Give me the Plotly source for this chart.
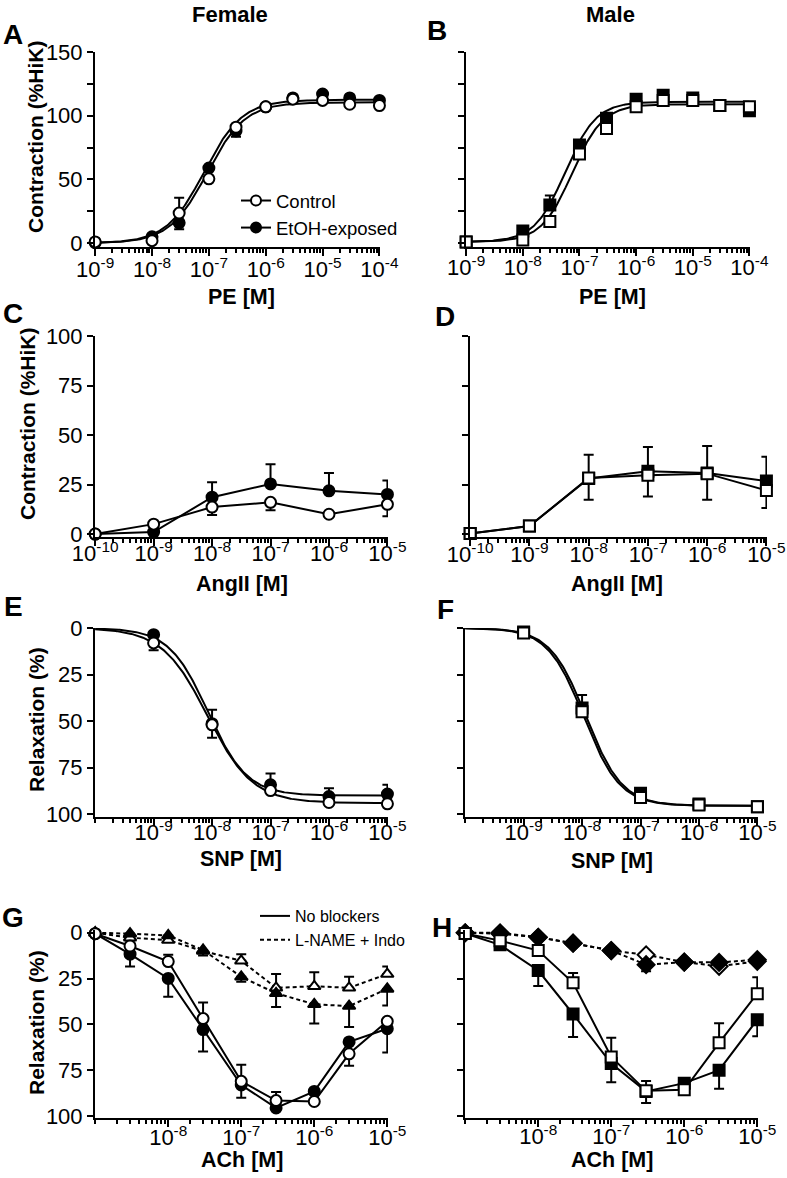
import numpy as np
import plotly.graph_objects as go

# ---------------- DATA ----------------
# Panel A/B: phenylephrine (PE) concentration-response (contraction, %HiK)
pe_x = [1e-9, 1e-8, 3e-8, 1e-7, 3e-7, 1e-6, 3e-6, 1e-5, 3e-5, 1e-4]
A_ctrl = [1, 2, 23.6, 50.5, 91, 107, 113, 112, 109, 108]
A_ctrl_up = [0, 0, 12, 0, 0, 0, 0, 0, 0, 0]
A_etoh = [0.5, 5, 16, 59, 88, 107, 114, 117, 114, 112]
A_etoh_dn = [0, 0, 5, 0, 4.5, 0, 0, 0, 0, 0]
# fit parameters: [bottom, top, logEC50, hill slope]
A_ctrl_fit = [0, 110.5, -7.03, 1.3]
A_etoh_fit = [0, 112.5, -7.08, 1.3]

B_ctrl = [1, 2.4, 17, 70, 90, 107, 112, 112, 108, 107]
B_etoh = [1, 9.5, 30, 77, 98, 113, 116, 114, 108, 104]
B_etoh_up = [0, 0, 7.5, 0, 0, 0, 0, 0, 0, 0]
B_ctrl_fit = [1, 109, -7.13, 1.6]
B_etoh_fit = [1, 111, -7.25, 1.6]

# Panel C/D: angiotensin II
ang_x = [1e-10, 1e-9, 1e-8, 1e-7, 1e-6, 1e-5]
C_ctrl = [0, 5, 13.6, 16, 10, 15]
C_ctrl_dn = [0, 0, 4, 4, 0, 6]
C_etoh = [0, 1, 18.6, 25.3, 21.8, 20]
C_etoh_up = [0, 0, 7.6, 10, 9, 7]

D_ctrl = [0.3, 4, 28.3, 29.7, 30.5, 22]
D_ctrl_dn = [0, 0, 11, 10.7, 13.2, 8.8]
D_etoh = [0.3, 4, 28, 31.7, 30.8, 26.8]
D_etoh_up = [0, 0, 12, 12.3, 13.6, 12.2]

# Panel E/F: sodium nitroprusside (relaxation, %)
snp_x = [1e-9, 1e-8, 1e-7, 1e-6, 1e-5]
E_ctrl = [8, 52, 87.3, 93.7, 94.4]
E_ctrl_plus = [4, 7, 0, 0, 0]
E_etoh = [3.6, 51.4, 84.2, 90.5, 89.2]
E_etoh_minus = [0, 7.5, 6, 4.5, 5]
E_ctrl_fit = [0, 94, -8.08, 1.12]
E_etoh_fit = [0, 90, -8.07, 1.3]

F_ctrl = [2.7, 45, 91, 95, 96]
F_etoh = [2.1, 43, 88.8, 94.5, 96]
F_etoh_minus = [0, 7, 0, 0, 0]
F_ctrl_fit = [0, 95.5, -7.93, 1.4]
F_etoh_fit = [0, 95.5, -7.97, 1.4]

# Panel G/H: acetylcholine (relaxation, %)
ach_x = [1e-9, 3e-9, 1e-8, 3e-8, 1e-7, 3e-7, 1e-6, 3e-6, 1e-5]
G_ctrl = [0.5, 7.2, 15.7, 46.8, 81, 91.5, 92, 66, 48.3]
G_ctrl_minus = [0, 0, 3.7, 8.8, 9, 4.7, 0, 0, 0]
G_ctrl_plus = [0, 0, 0, 0, 0, 0, 0, 6.5, 0]
G_etoh = [0.5, 11.7, 24.9, 52.8, 83, 95.5, 86.5, 59.5, 52.3]
G_etoh_plus = [0, 6.7, 10, 12, 7, 0, 0, 0, 13]
G_ln_ctrl = [0, 2.7, 4, 10, 15.3, 30, 29.2, 30, 22.5]
G_ln_ctrl_minus = [0, 0, 0, 0, 3.6, 7.5, 7.6, 6, 4.1]
G_ln_etoh = [0, 0.5, 1.5, 9.4, 24, 33, 39, 40, 30.6]
G_ln_etoh_plus = [0, 0, 0, 3, 2.7, 7.5, 10.5, 11.4, 9]

H_ctrl = [0.4, 4.3, 9.7, 27.3, 67.7, 86.2, 85.6, 60, 33.2]
H_ctrl_minus = [0, 0, 0, 5.4, 10.4, 5.4, 0, 10.6, 9]
H_etoh = [0.4, 6.6, 20.6, 44.3, 71.3, 86.5, 82, 74.9, 47.4]
H_etoh_plus = [0, 0, 8.4, 12.6, 10.2, 6.3, 0, 10.2, 9]
H_ln_ctrl = [0, 0.5, 2.5, 5.7, 9.7, 12, 16, 18.3, 15.6]
H_ln_etoh = [0, 0, 2.5, 5.7, 9.7, 17.4, 16, 16.2, 14.7]
H_ln_etoh_plus = [0, 0, 0, 0, 0, 3.6, 0, 0, 0]

# ---------------- STYLE ----------------
W, H = 787, 1178
FONT = "Arial, Liberation Sans, sans-serif"
BLACK = "black"


def px_x(p):
    return p / W


def px_y(p):
    return 1 - p / H


def hill(params, lo, hi, n=300):
    bottom, top, logec50, slope = params
    lx = np.linspace(lo, hi, n)
    y = bottom + (top - bottom) / (1 + 10 ** ((logec50 - lx) * slope))
    return 10 ** lx, y


fig = go.Figure()


def marker(symbol, filled, size=11):
    return dict(symbol=symbol, size=size, color=BLACK if filled else "white",
                line=dict(color=BLACK, width=2))


def err(plus, minus):
    return dict(type="data", symmetric=False, array=plus, arrayminus=minus,
                color=BLACK, thickness=2, width=5)


def zeros(n):
    return [0] * n


def add_points(ax, x, y, sym, filled, plus, minus, mode="markers", dash="solid", size=11):
    xa, ya = ax
    fig.add_trace(go.Scatter(
        x=x, y=y, mode=mode, xaxis=xa, yaxis=ya, showlegend=False,
        marker=marker(sym, filled, size), line=dict(color=BLACK, width=2, dash=dash),
        error_y=err(plus, minus), cliponaxis=False))


def add_curve(ax, params, lo, hi):
    xa, ya = ax
    cx, cy = hill(params, lo, hi)
    fig.add_trace(go.Scatter(x=cx, y=cy, mode="lines", xaxis=xa, yaxis=ya,
                             showlegend=False, line=dict(color=BLACK, width=2),
                             cliponaxis=False))


# Panel A
axA = ("x", "y")
add_curve(axA, A_ctrl_fit, -9, -4)
add_curve(axA, A_etoh_fit, -9, -4)
add_points(axA, pe_x, A_etoh, "circle", True, zeros(10), A_etoh_dn)
add_points(axA, pe_x, A_ctrl, "circle", False, A_ctrl_up, zeros(10))

# Panel B
axB = ("x2", "y2")
add_curve(axB, B_ctrl_fit, -9, -4)
add_curve(axB, B_etoh_fit, -9, -4)
add_points(axB, pe_x, B_etoh, "square", True, B_etoh_up, zeros(10))
add_points(axB, pe_x, B_ctrl, "square", False, zeros(10), zeros(10))

# Panel C
axC = ("x3", "y3")
add_points(axC, ang_x, C_etoh, "circle", True, C_etoh_up, zeros(6), mode="lines+markers")
add_points(axC, ang_x, C_ctrl, "circle", False, zeros(6), C_ctrl_dn, mode="lines+markers")

# Panel D
axD = ("x4", "y4")
add_points(axD, ang_x, D_etoh, "square", True, D_etoh_up, zeros(6), mode="lines+markers")
add_points(axD, ang_x, D_ctrl, "square", False, zeros(6), D_ctrl_dn, mode="lines+markers")

# Panel E
axE = ("x5", "y5")
add_curve(axE, E_ctrl_fit, -10, -5)
add_curve(axE, E_etoh_fit, -10, -5)
add_points(axE, snp_x, E_etoh, "circle", True, zeros(5), E_etoh_minus)
add_points(axE, snp_x, E_ctrl, "circle", False, E_ctrl_plus, zeros(5))

# Panel F
axF = ("x6", "y6")
add_curve(axF, F_ctrl_fit, -10, -5)
add_curve(axF, F_etoh_fit, -10, -5)
add_points(axF, snp_x, F_etoh, "square", True, zeros(5), F_etoh_minus)
add_points(axF, snp_x, F_ctrl, "square", False, zeros(5), zeros(5))

# Panel G
axG = ("x7", "y7")
add_points(axG, ach_x, G_ln_ctrl, "triangle-up", False, zeros(9), G_ln_ctrl_minus,
           mode="lines+markers", dash="4px,3px", size=11)
add_points(axG, ach_x, G_ln_etoh, "triangle-up", True, G_ln_etoh_plus, zeros(9),
           mode="lines+markers", dash="4px,3px", size=11)
add_points(axG, ach_x, G_etoh, "circle", True, G_etoh_plus, zeros(9), mode="lines+markers")
add_points(axG, ach_x, G_ctrl, "circle", False, G_ctrl_plus, G_ctrl_minus, mode="lines+markers")

# Panel H
axH = ("x8", "y8")
add_points(axH, ach_x, H_ln_ctrl, "diamond", False, zeros(9), zeros(9),
           mode="lines+markers", dash="4px,3px", size=13)
add_points(axH, ach_x, H_ln_etoh, "diamond", True, H_ln_etoh_plus, zeros(9),
           mode="lines+markers", dash="4px,3px", size=13)
add_points(axH, ach_x, H_etoh, "square", True, H_etoh_plus, zeros(9), mode="lines+markers")
add_points(axH, ach_x, H_ctrl, "square", False, zeros(9), H_ctrl_minus, mode="lines+markers")

# Legend entries (panel A)
fig.add_trace(go.Scatter(x=[None], y=[None], mode="lines+markers", name="Control",
                         marker=marker("circle", False, 10), line=dict(color=BLACK, width=2),
                         legend="legend"))
fig.add_trace(go.Scatter(x=[None], y=[None], mode="lines+markers", name="EtOH-exposed",
                         marker=marker("circle", True, 10), line=dict(color=BLACK, width=2),
                         legend="legend"))
# Legend entries (panel G)
fig.add_trace(go.Scatter(x=[None], y=[None], mode="lines", name="No blockers",
                         line=dict(color=BLACK, width=2), legend="legend2"))
fig.add_trace(go.Scatter(x=[None], y=[None], mode="lines", name="L-NAME + Indo",
                         line=dict(color=BLACK, width=2, dash="4px,3px"), legend="legend2"))


def sup(e):
    return "10<sup>%d</sup>" % e


def minor_vals(lo, hi, extra):
    return sorted([m * 10.0 ** d for d in range(lo, hi) for m in range(2, 10)] + extra)


tickfont = dict(family=FONT, size=22, color=BLACK)


def xaxis(dom, lo, hi, labeled, anchor, shift):
    vals = [10.0 ** e for e in labeled]
    text = [sup(e) for e in labeled]
    extra = [10.0 ** e for e in range(lo, hi + 1) if e not in labeled]
    return dict(domain=dom, type="log", range=[lo - 0.003, hi + 0.01], anchor=anchor,
                automargin=False,
                tickmode="array", tickvals=vals, ticktext=text, ticklabelstandoff=shift,
                showline=True, linewidth=2, linecolor=BLACK, mirror=False,
                ticks="outside", ticklen=7, tickwidth=2, tickcolor=BLACK,
                tickfont=tickfont, showgrid=False, zeroline=False,
                minor=dict(tickmode="array", tickvals=minor_vals(lo, hi, extra), ticks="outside",
                           ticklen=4, tickwidth=1.5, tickcolor=BLACK, showgrid=False))


def yaxis(dom, rng, vals, text, minor, anchor, show):
    d = dict(domain=dom, range=rng, anchor=anchor, tickmode="array",
             automargin=False,
             tickvals=vals, ticktext=text, showticklabels=show,
             showline=True, linewidth=2, linecolor=BLACK,
             ticks="outside", ticklen=6, tickwidth=2, tickcolor=BLACK,
             tickfont=tickfont, showgrid=False, zeroline=False)
    if minor:
        d["minor"] = dict(tickmode="array", tickvals=minor, ticks="outside", ticklen=6,
                          tickwidth=2, tickcolor=BLACK, showgrid=False)
    return d


# domains (pixel based)
xL_A = [px_x(95), px_x(380)]
xR_B = [px_x(466), px_x(750)]
xL = [px_x(95), px_x(388)]
xR_D = [px_x(470), px_x(767)]
xR_F = [px_x(465), px_x(758)]
yAB = [px_y(247), px_y(52)]
yCD = [px_y(537), px_y(336)]
yEF = [px_y(817), px_y(628)]
yGH = [px_y(1118), px_y(930)]

ab_vals = [0, 50, 100, 150]
ab_text = ["0", "50", "100", "150"]
ab_minor = [25, 75, 125]
q_vals = [0, 25, 50, 75, 100]
q_text = ["0", "25", "50", "75", "100"]

layout = dict(
    width=W, height=H, margin=dict(l=0, r=0, t=0, b=0, autoexpand=False),
    paper_bgcolor="white", plot_bgcolor="white",
    font=dict(family=FONT, color=BLACK),
    xaxis=xaxis(xL_A, -9, -4, list(range(-9, -3)), "y", -5),
    yaxis=yaxis(yAB, [-3, 150], ab_vals, ab_text, ab_minor, "x", True),
    xaxis2=xaxis(xR_B, -9, -4, list(range(-9, -3)), "y2", -7),
    yaxis2=yaxis(yAB, [-3, 150], ab_vals, ab_text, ab_minor, "x2", False),
    xaxis3=xaxis(xL, -10, -5, list(range(-10, -4)), "y3", -11),
    yaxis3=yaxis(yCD, [-1.5, 100], q_vals, q_text, None, "x3", True),
    xaxis4=xaxis(xR_D, -10, -5, list(range(-10, -4)), "y4", -10),
    yaxis4=yaxis(yCD, [-1.5, 100], q_vals, q_text, None, "x4", False),
    xaxis5=xaxis(xL, -10, -5, list(range(-9, -4)), "y5", -12),
    yaxis5=yaxis(yEF, [101.5, 0], q_vals, q_text, None, "x5", True),
    xaxis6=xaxis(xR_F, -10, -5, list(range(-9, -4)), "y6", -12),
    yaxis6=yaxis(yEF, [101.5, 0], q_vals, q_text, None, "x6", False),
    xaxis7=xaxis(xL, -9, -5, list(range(-8, -4)), "y7", -8),
    yaxis7=yaxis(yGH, [101, -1.5], q_vals, q_text, None, "x7", True),
    xaxis8=xaxis(xR_F, -9, -5, list(range(-8, -4)), "y8", -9),
    yaxis8=yaxis(yGH, [101, -1.5], q_vals, q_text, None, "x8", False),
    legend=dict(x=px_x(236), y=px_y(182), xanchor="left", yanchor="top",
                font=dict(family=FONT, size=18.5, color=BLACK),
                bgcolor="rgba(0,0,0,0)", itemwidth=30, tracegroupgap=0),
    legend2=dict(x=px_x(255), y=px_y(899), xanchor="left", yanchor="top",
                 font=dict(family=FONT, size=16, color=BLACK),
                 bgcolor="rgba(0,0,0,0)", itemwidth=30, tracegroupgap=0),
)
fig.update_layout(**layout)


def label(t, x, y, size, angle=0):
    fig.add_annotation(text=t, x=px_x(x), y=px_y(y), xref="paper", yref="paper",
                       showarrow=False, xanchor="center", yanchor="middle", textangle=angle,
                       font=dict(family=FONT, size=size, color=BLACK, weight="bold"))


# Column headings
for t, x, y in [("Female", 230, 15), ("Male", 610, 15)]:
    label(t, x, y, 22)

# Panel letters
for t, x, y in [("A", 13, 34), ("B", 437, 30), ("C", 13, 314), ("D", 445, 316),
                ("E", 13, 606), ("F", 445, 609), ("G", 13, 917), ("H", 442, 927)]:
    label(t, x, y, 28)

# Axis titles
x_titles = [("PE [M]", 242, 297), ("PE [M]", 612, 297),
            ("AngII [M]", 242, 584), ("AngII [M]", 617, 584),
            ("SNP [M]", 241, 859), ("SNP [M]", 612, 861),
            ("ACh [M]", 242, 1160), ("ACh [M]", 612, 1160)]
for t, x, y in x_titles:
    label(t, x, y, 21.5)

y_titles = [("Contraction (%HiK)", 35, 137), ("Contraction (%HiK)", 27, 424),
            ("Relaxation (%)", 36, 720), ("Relaxation (%)", 36, 1023)]
for t, x, y in y_titles:
    label(t, x, y, 21, angle=-90)

fig.write_html("out.html", config={"displayModeBar": False},
               post_script="document.body.style.margin='0px';")
